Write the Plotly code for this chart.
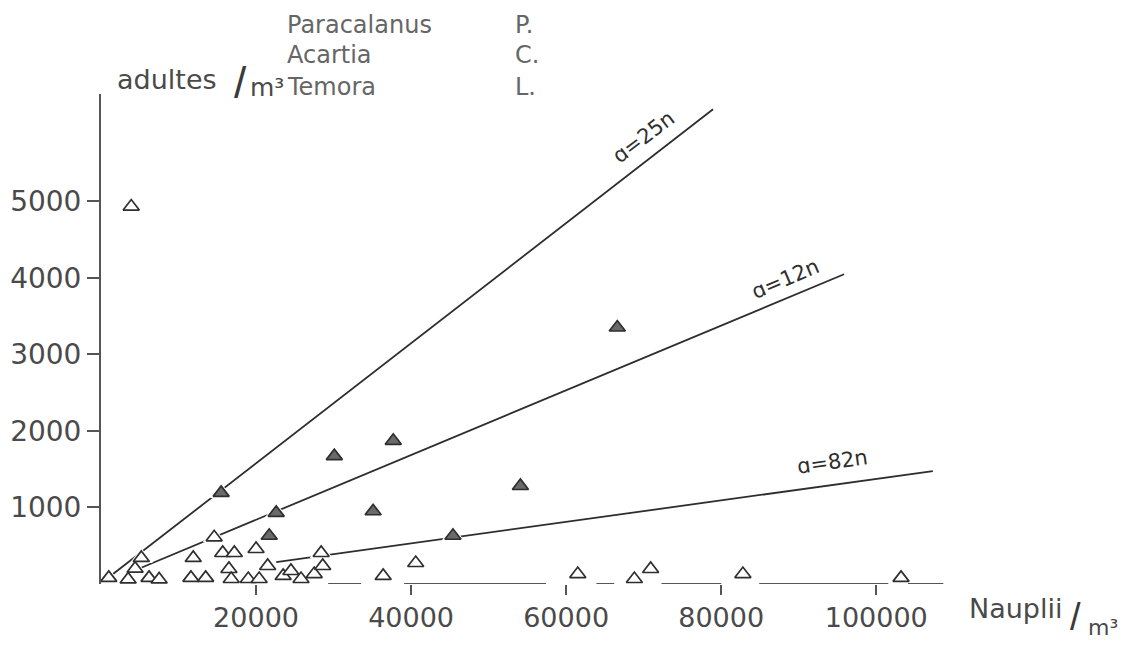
import plotly.graph_objects as go

# ---- data ----
open_x = [1000, 3500, 4400, 5200, 6200, 7500, 11600, 11900, 13500, 14600, 15700, 17200,
          16500, 16800, 19000, 20000, 20400, 21500, 23500, 24500, 25800, 27500, 28400,
          28600, 36400, 40600, 61500, 68800, 70900, 82800, 103200, 3900]
open_y = [80, 60, 200, 340, 80, 60, 80, 340, 80, 610, 405, 405,
          196, 65, 65, 457, 65, 235, 105, 170, 65, 130, 405,
          235, 105, 274, 130, 65, 196, 130, 80, 4930]

filled_x = [15500, 22600, 30100, 37700, 35100, 54100, 66600, 45400, 21700]
filled_y = [1190, 930, 1670, 1870, 950, 1280, 3350, 630, 630]

# reference lines (start / end points)
line_names = ["ɑ=25n", "ɑ=12n", "ɑ=82n"]
line_x = [[1550, 78950], [3870, 95850], [22600, 107300]]
line_y = [[130, 6200], [157, 4046], [287, 1475]]
label_x = [70000, 88300, 94300]
label_y = [5840, 3980, 1590]
label_angle = [-37, -23, -8]

# broken x axis segments
axis_seg_start = [29300, 39100, 63900, 72300, 84900, 104100]
axis_seg_end = [33550, 57400, 66200, 80000, 101550, 108650]

x_ticks = [20000, 40000, 60000, 80000, 100000]
y_ticks = [1000, 2000, 3000, 4000, 5000]

legend_species = ["Paracalanus", "Acartia", "Temora"]
legend_abbr = ["P.", "C.", "L."]

INK = "#2e2e2e"
TXT = "#4a4a4a"
FONT = "DejaVu Sans, Verdana, sans-serif"
SLASH_FONT = "Liberation Sans, Arial, sans-serif"

fig = go.Figure()

# reference lines
for xs, ys, nm in zip(line_x, line_y, line_names):
    fig.add_trace(go.Scatter(x=xs, y=ys, mode="lines", name=nm,
                             line=dict(color=INK, width=1.8), hoverinfo="skip"))

# broken x axis
seg_x, seg_y = [], []
for a, b in zip(axis_seg_start, axis_seg_end):
    seg_x += [a, b, None]
    seg_y += [0, 0, None]
fig.add_trace(go.Scatter(x=seg_x, y=seg_y, mode="lines", line=dict(color="#555555", width=2),
                         hoverinfo="skip", cliponaxis=False))

# white halos (gaps in lines around the triangles)
fig.add_trace(go.Scatter(x=filled_x + open_x, y=filled_y + open_y, mode="markers",
                         marker=dict(symbol="triangle-up", size=20, color="white",
                                     line=dict(width=0)),
                         hoverinfo="skip", cliponaxis=False))

fig.add_trace(go.Scatter(x=open_x, y=open_y, mode="markers", name="ouverts",
                         marker=dict(symbol="triangle-up", size=14, color="white",
                                     line=dict(color=INK, width=1.7)),
                         cliponaxis=False))
fig.add_trace(go.Scatter(x=filled_x, y=filled_y, mode="markers", name="pleins",
                         marker=dict(symbol="triangle-up", size=14, color="#6a6a6a",
                                     line=dict(color=INK, width=1.7)),
                         cliponaxis=False))

ann = []
for nm, lx, ly, ang in zip(line_names, label_x, label_y, label_angle):
    ann.append(dict(x=lx, y=ly, xref="x", yref="y", text=nm, showarrow=False,
                    textangle=ang, font=dict(size=21, color=INK, family=FONT)))

# free texts, positioned in screen pixels of the plot area
W, H = 845.0, 490.0
def px(xp, yp):
    return (xp - 100) / W, (583 - yp) / H

def add_text(xp, yp, text, size, anchor="center", color=TXT, family=FONT, yanchor="middle"):
    x, y = px(xp, yp)
    ann.append(dict(x=x, y=y, xref="paper", yref="paper", text=text, showarrow=False,
                    xanchor=anchor, yanchor=yanchor,
                    font=dict(size=size, color=color, family=family)))

add_text(114, 78, "adultes", 27, anchor="left")
add_text(239, 82, "/", 44, color="#3a3a3a", family=SLASH_FONT)
add_text(247, 86, "m³", 25, anchor="left")

rows_y = [8, 38, 70]
for sp, ab, ry in zip(legend_species, legend_abbr, rows_y):
    add_text(284, ry, sp, 24, anchor="left", color="#666666", yanchor="top")
    add_text(512, ry, ab, 24, anchor="left", color="#666666", yanchor="top")

add_text(966, 607, "Nauplii", 27, anchor="left")
add_text(1074, 616, "/", 38, color="#3a3a3a", family=SLASH_FONT)
add_text(1085, 626, "m³", 22, anchor="left")

fig.update_layout(
    width=1114, height=635,
    margin=dict(l=93, r=176, t=86, b=59, autoexpand=False),
    paper_bgcolor="white", plot_bgcolor="white",
    showlegend=False,
    annotations=ann,
    font=dict(family=FONT, color=TXT),
    xaxis=dict(range=[0, 109000], tickvals=x_ticks, ticktext=[str(v) for v in x_ticks],
               showgrid=False, zeroline=False, showline=False, automargin=False,
               ticks="outside", ticklen=10, tickwidth=2, tickcolor="#555555",
               tickfont=dict(size=27, color=TXT, family=FONT)),
    yaxis=dict(range=[0, 6400], tickvals=y_ticks, ticktext=[str(v) for v in y_ticks],
               showgrid=False, zeroline=False, showline=True, linecolor="#555555",
               linewidth=2, ticks="outside", ticklen=12, tickwidth=2, tickcolor="#555555",
               automargin=False,
               tickfont=dict(size=28, color=TXT, family=FONT)),
)

fig.write_html("out.html")
